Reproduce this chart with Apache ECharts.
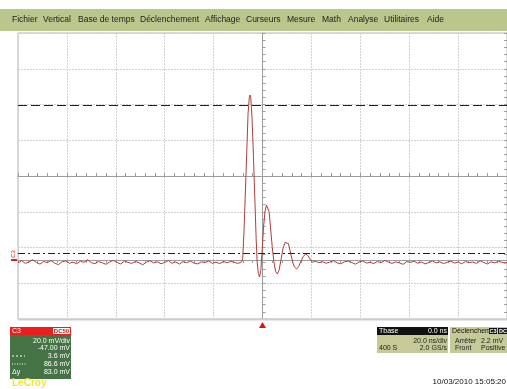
<!DOCTYPE html>
<html><head><meta charset="utf-8">
<script src="https://cdn.jsdelivr.net/npm/echarts@6/dist/echarts.min.js"></script>
<style>html,body{margin:0;padding:0;background:#fff}#c{width:507px;height:389px}</style>
</head><body><div id="c"></div>
<script>
// ---------- DATA ----------
const menuItems = ['Fichier','Vertical','Base de temps','Déclenchement','Affichage','Curseurs','Mesure','Math','Analyse','Utilitaires','Aide'];
const timeNs = [
 -100,-98.5,-97,-95.5,-94,-92.5,-91,-89.5,-88,-86.5,-85,-83.5,-82,-80.5,-79,-77.5,-76,-74.5,-73,-71.5,
 -70,-68.5,-67,-65.5,-64,-62.5,-61,-59.5,-58,-56.5,-55,-53.5,-52,-50.5,-49,-47.5,-46,-44.5,-43,-41.5,
 -40,-38.5,-37,-35.5,-34,-32.5,-31,-29.5,-28,-26.5,-25,-23.5,-22,-20.5,-19,-17.5,-16,-14.5,-13,-11.5,-10,
 -8.5,-8.1,-7.6,-7.0,-6.4,-5.9,-5.4,-5.1,-4.8,-4.3,-3.7,-3.1,-2.6,-2.2,-1.7,-1.2,-0.7,-0.2,0.4,1.0,
 1.6,2.1,2.7,3.3,4.0,4.7,5.4,6.1,6.8,7.6,8.4,9.2,9.9,10.6,11.4,12.2,13.0,13.9,14.8,15.7,
 16.6,17.6,18.5,19.5,20.5,21.5,
 23,24.5,26,27.5,29,30.5,32,33.5,35,36.5,38,39.5,41,42.5,44,45.5,47,48.5,50,51.5,
 53,54.5,56,57.5,59,60.5,62,63.5,65,66.5,68,69.5,71,72.5,74,75.5,77,78.5,80,81.5,
 83,84.5,86,87.5,89,90.5,92,93.5,95,96.5,98,99.5,100
];
const voltageMv = [
 -1.6,-0.4,-1.9,-1.1,0.2,-1.4,-2.3,-0.8,-1.5,-0.3,-1.7,-2.6,-1.0,-0.5,-1.8,-1.2,-2.1,-0.7,-1.3,0.1,
 -1.5,-2.0,-0.9,-1.6,-2.4,-1.1,-0.2,-1.4,-2.2,-0.6,-1.3,-1.9,-0.8,-1.5,-2.7,-1.2,-0.4,-1.6,-1.0,-2.1,
 -1.4,-0.3,-1.8,-1.1,-2.3,-0.9,-1.5,-0.6,-1.7,-2.2,-1.0,-1.4,-0.5,-1.9,-1.2,-2.0,-0.8,-1.6,-0.7,-1.3,-1.9,
 -1.0,0.6,15,38,62,82,91,92.3,91,80,58,33,12,-1,-7.5,-9.5,-6,4,18,27,
 30.8,31.3,27,18,7,-1.5,-6.5,-7.8,-5.5,0.5,6.5,9.8,10.6,9.2,4.5,-0.5,-3.8,-5.0,-3.6,-0.8,
 1.8,3.4,2.6,0.4,-1.3,-0.6,
 -1.5,-0.9,-1.8,-1.2,-0.4,-1.6,-2.1,-1.0,-0.6,-1.4,-2.3,-1.1,-0.5,-1.7,-1.3,-2.0,-0.8,-1.5,-0.2,-1.2,
 -1.9,-1.0,-1.6,-2.4,-0.9,-1.3,-0.7,-1.8,-1.1,-2.2,-1.4,-0.5,-1.6,-1.0,-2.0,-1.3,-0.6,-1.7,-1.2,-2.1,
 -0.8,-1.5,-1.1,-1.9,-0.4,-1.4,-2.2,-1.0,-1.6,-0.7,-1.3,-1.8,-1.1
];
const cursorUpperMv = 86.6;
const cursorLowerMv = 3.6;
const channelLabels = ['20.0 mV/div','-47.00 mV','3.6 mV','86.6 mV','83.0 mV'];
const timebaseLabels = ['0.0 ns','20.0 ns/div','400 S','2.0 GS/s'];
const triggerLabels = ['Arrêter','2.2 mV','Front','Positive'];
const dateLabel = '10/03/2010 15:05:20';

// ---------- SCALES ----------
const voltsPerDiv = 20, offsetMv = -47, vDivs = 8;
const yMinMv = -offsetMv - voltsPerDiv*vDivs/2;   // -33
const yMaxMv = -offsetMv + voltsPerDiv*vDivs/2;   // 127

const chart = echarts.init(document.getElementById('c'), null, {renderer:'canvas'});
const F = "'Liberation Sans', Arial, sans-serif";
const menuX = [12,43,78,140,205,246,287,322,348,384,427];

const graphics = [];
graphics.push({type:'rect', shape:{x:0,y:9,width:507,height:22}, style:{fill:'#b9c68c'}, z:10});
menuItems.forEach((m,i)=>graphics.push({type:'text', x:menuX[i], y:20, style:{text:m, fill:'#222', font:'8.5px '+F, verticalAlign:'middle'}, z:11}));

// C3 panel
graphics.push({type:'rect', shape:{x:10,y:327,width:61,height:52}, style:{fill:'#467346'}, z:10});
graphics.push({type:'rect', shape:{x:10,y:327,width:61,height:8}, style:{fill:'#ee1c1c'}, z:11});
graphics.push({type:'text', x:12, y:331, style:{text:'C3', fill:'#fff', font:'7px '+F, verticalAlign:'middle'}, z:12});
graphics.push({type:'rect', shape:{x:53,y:328,width:17,height:6,r:1}, style:{fill:'#fff'}, z:12});
graphics.push({type:'text', x:61.5, y:331, style:{text:'DC50', fill:'#d01010', font:'bold 6px '+F, align:'center', verticalAlign:'middle'}, z:13});
const rowsY = [341,348.5,356,364,372.5];
channelLabels.forEach((t,i)=>graphics.push({type:'text', x:70, y:rowsY[i], style:{text:t, fill:'#fff', font:'7px '+F, align:'right', verticalAlign:'middle'}, z:12}));
graphics.push({type:'line', shape:{x1:12,y1:356,x2:25,y2:356}, style:{stroke:'#fff', lineWidth:1, lineDash:[2,2]}, z:12});
graphics.push({type:'line', shape:{x1:12,y1:364,x2:27,y2:364}, style:{stroke:'#fff', lineWidth:1, lineDash:[1,1.5]}, z:12});
graphics.push({type:'text', x:12, y:372.5, style:{text:'Δy', fill:'#fff', font:'7px '+F, verticalAlign:'middle'}, z:12});
graphics.push({type:'text', x:12, y:383, style:{text:'LeCroy', fill:'#f2e43a', font:'bold 10px '+F, verticalAlign:'middle'}, z:12});

// Timebase panel
graphics.push({type:'rect', shape:{x:377,y:327,width:71,height:26}, style:{fill:'#c6ca98'}, z:10});
graphics.push({type:'rect', shape:{x:377,y:327,width:71,height:8}, style:{fill:'#111'}, z:11});
graphics.push({type:'text', x:379, y:331, style:{text:'Tbase', fill:'#fff', font:'7px '+F, verticalAlign:'middle'}, z:12});
graphics.push({type:'text', x:447, y:331, style:{text:timebaseLabels[0], fill:'#fff', font:'7px '+F, align:'right', verticalAlign:'middle'}, z:12});
graphics.push({type:'text', x:447, y:341, style:{text:timebaseLabels[1], fill:'#222', font:'7px '+F, align:'right', verticalAlign:'middle'}, z:12});
graphics.push({type:'text', x:379, y:348.5, style:{text:timebaseLabels[2], fill:'#222', font:'7px '+F, verticalAlign:'middle'}, z:12});
graphics.push({type:'text', x:447, y:348.5, style:{text:timebaseLabels[3], fill:'#222', font:'7px '+F, align:'right', verticalAlign:'middle'}, z:12});

// Trigger panel
graphics.push({type:'rect', shape:{x:450,y:327,width:60,height:26}, style:{fill:'#c6ca98'}, z:10});
graphics.push({type:'text', x:452, y:331, style:{text:'Déclenchem', fill:'#111', font:'7px '+F, verticalAlign:'middle'}, z:12});
graphics.push({type:'rect', shape:{x:489,y:328,width:8,height:6}, style:{fill:'#111'}, z:12});
graphics.push({type:'text', x:493, y:331, style:{text:'C3', fill:'#fff', font:'bold 5.5px '+F, align:'center', verticalAlign:'middle'}, z:13});
graphics.push({type:'rect', shape:{x:498,y:328,width:10,height:6}, style:{fill:'#111'}, z:12});
graphics.push({type:'text', x:499, y:331, style:{text:'DC', fill:'#fff', font:'bold 5.5px '+F, verticalAlign:'middle'}, z:13});
graphics.push({type:'text', x:455, y:341, style:{text:triggerLabels[0], fill:'#222', font:'7px '+F, verticalAlign:'middle'}, z:12});
graphics.push({type:'text', x:481, y:341, style:{text:triggerLabels[1], fill:'#222', font:'7px '+F, verticalAlign:'middle'}, z:12});
graphics.push({type:'text', x:455, y:348.5, style:{text:triggerLabels[2], fill:'#222', font:'7px '+F, verticalAlign:'middle'}, z:12});
graphics.push({type:'text', x:481, y:348.5, style:{text:triggerLabels[3], fill:'#222', font:'7px '+F, verticalAlign:'middle'}, z:12});

graphics.push({type:'text', x:506, y:382, style:{text:dateLabel, fill:'#111', font:'8px '+F, align:'right', verticalAlign:'middle'}, z:12});

// C3 channel marker on left
graphics.push({type:'text', x:13, y:254, rotation:Math.PI/2, style:{text:'C3', fill:'#e02020', font:'6px '+F, align:'center', verticalAlign:'middle'}, z:12});
graphics.push({type:'rect', shape:{x:11,y:259,width:6,height:2}, style:{fill:'#e02020'}, z:12});
// bottom border
graphics.push({type:'line', shape:{x1:18,y1:319.5,x2:507,y2:319.5}, style:{stroke:'#cfcfcf', lineWidth:2}, z:5});

const gridLine = {show:true, lineStyle:{color:'#d2d2d2', type:[2,1], width:1}};
const centerAxisLine = {show:true, onZero:true, lineStyle:{color:'#9c9c9c', width:1}};
const tickStyle = {show:true, inside:true, length:3, lineStyle:{color:'#9c9c9c'}};
const minorTick = {show:true, splitNumber:5, length:3, lineStyle:{color:'#9c9c9c'}};

const option = {
  animation:false,
  backgroundColor:'#fff',
  grid:{left:18, top:33, width:490, height:286, show:true, borderColor:'#b4b4b4', borderWidth:1, backgroundColor:'transparent'},
  xAxis:[
    {type:'value', min:-100, max:100, interval:20, position:'bottom', axisLine:centerAxisLine, axisTick:tickStyle, minorTick:minorTick, axisLabel:{show:false}, splitLine:gridLine},
    {type:'value', min:-100, max:100, interval:20, position:'top', axisLine:centerAxisLine, axisTick:tickStyle, minorTick:minorTick, axisLabel:{show:false}, splitLine:{show:false}}
  ],
  yAxis:[
    {type:'value', min:-4, max:4, interval:1, position:'left', axisLine:centerAxisLine, axisTick:tickStyle, minorTick:minorTick, axisLabel:{show:false}, splitLine:gridLine},
    {type:'value', min:yMinMv, max:yMaxMv, show:false, splitLine:{show:false}},
    {type:'value', min:-4, max:4, interval:1, position:'right', axisLine:centerAxisLine, axisTick:tickStyle, minorTick:minorTick, axisLabel:{show:false}, splitLine:{show:false}}
  ],
  graphic: graphics,
  series:[{
    type:'line', xAxisIndex:0, yAxisIndex:1, showSymbol:false, symbol:'none',
    data: timeNs.map((t,i)=>[t, voltageMv[i]]),
    lineStyle:{color:'#b23c3c', width:1},
    z:4,
    markLine:{
      silent:true, symbol:'none', label:{show:false},
      data:[
        {yAxis:cursorUpperMv, lineStyle:{color:'#222', type:[9,4], width:1}},
        {yAxis:cursorLowerMv, lineStyle:{color:'#222', type:[7,3,2,3], width:1}}
      ]
    },
    markPoint:{
      silent:true, symbol:'triangle', symbolSize:[7,6], symbolOffset:[0,6],
      itemStyle:{color:'#e01010'}, label:{show:false},
      data:[{coord:[0, yMinMv]}]
    }
  }]
};
chart.setOption(option);
</script></body></html>
